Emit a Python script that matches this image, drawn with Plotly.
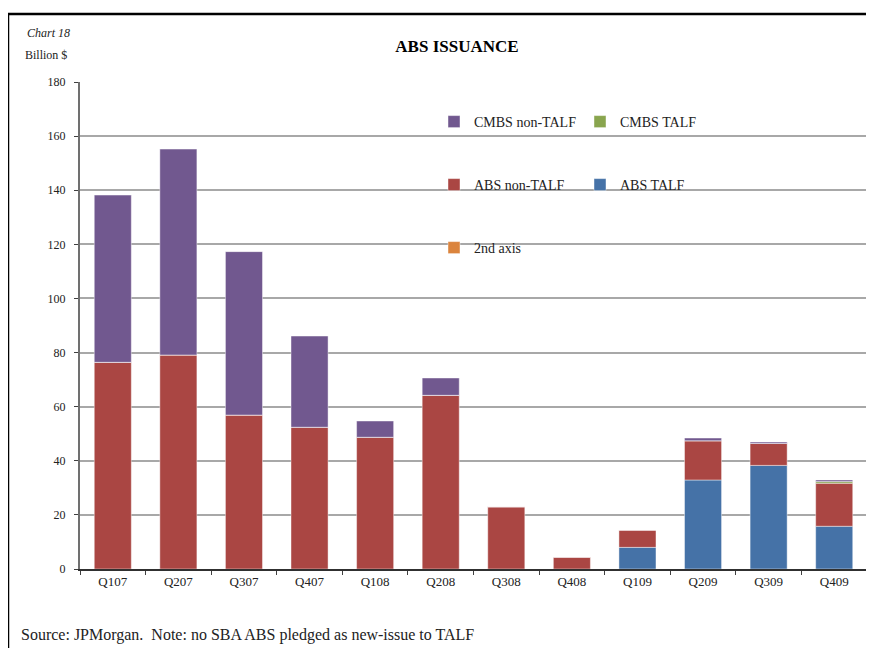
import plotly.graph_objects as go

categories = ["Q107", "Q207", "Q307", "Q407", "Q108", "Q208", "Q308", "Q408", "Q109", "Q209", "Q309", "Q409"]
second_axis = [-0.5, None, None, None, None, None, None, None, None, None, None, None]
abs_talf = [0, 0, 0, 0, 0, 0, 0, 0, 8.0, 32.9, 38.3, 15.8]
abs_non_talf = [76.4, 79.1, 56.9, 52.4, 48.7, 64.2, 23.0, 4.4, 6.4, 14.5, 8.1, 15.9]
cmbs_talf = [0, 0, 0, 0, 0, 0, 0, 0, 0, 0, 0, 0.6]
cmbs_non_talf = [61.8, 76.1, 60.4, 33.7, 6.0, 6.4, 0, 0, 0, 1.0, 0.5, 0.6]
y_ticks = [0, 20, 40, 60, 80, 100, 120, 140, 160, 180]

FONT = "Liberation Serif"
OFF = 8  # page body margin offset
W, H = 874 - OFF, 648 - OFF
L, R, T, B = 80 - OFF, 867 - OFF, 82 - OFF, 569 - OFF

def px(x):
    return (x - OFF - L) / (R - L)

def py(y):
    return (B - (y - OFF)) / (B - T)

edge = dict(color="rgba(255,255,255,0.55)", width=0.8)

fig = go.Figure()
fig.add_trace(go.Bar(x=categories, y=second_axis, name="2nd axis", marker=dict(color="#DB843D", line=edge), legend="legend3"))
fig.add_trace(go.Bar(x=categories, y=abs_talf, name="ABS TALF", marker=dict(color="#4572A7", line=edge), legend="legend2", legendrank=2))
fig.add_trace(go.Bar(x=categories, y=abs_non_talf, name="ABS non-TALF", marker=dict(color="#AA4643", line=edge), legend="legend2", legendrank=1))
fig.add_trace(go.Bar(x=categories, y=cmbs_talf, name="CMBS TALF", marker=dict(color="#89A54E", line=edge), legend="legend", legendrank=2))
fig.add_trace(go.Bar(x=categories, y=cmbs_non_talf, name="CMBS non-TALF", marker=dict(color="#71588F", line=edge), legend="legend", legendrank=1))

leg_common = dict(orientation="h", xanchor="left", yanchor="middle", bgcolor="rgba(0,0,0,0)",
                  font=dict(family=FONT, size=14, color="#222"), entrywidth=101, entrywidthmode="pixels",
                  traceorder="normal", itemwidth=30)

fig.update_layout(
    width=W, height=H,
    margin=dict(l=L, r=W - R, t=T, b=H - B),
    paper_bgcolor="white", plot_bgcolor="white",
    barmode="relative", bargap=0.435,
    font=dict(family=FONT, size=12, color="#222"),
    title=dict(text="<b>ABS ISSUANCE</b>", x=(457 - OFF) / W, y=1 - (46 - OFF) / H, xanchor="center", yanchor="middle",
               font=dict(family=FONT, size=17, color="#000")),
    legend=dict(x=px(434), y=py(122), **leg_common),
    legend2=dict(x=px(434), y=py(185), **leg_common),
    legend3=dict(x=px(434), y=py(248), **leg_common),
    xaxis=dict(type="category", tickson="boundaries", ticks="outside", ticklen=4, tickcolor="#404040",
               showline=True, linecolor="#303030", linewidth=1.5, showgrid=False,
               tickfont=dict(family=FONT, size=13, color="#222")),
    yaxis=dict(range=[0, 180], tickvals=y_ticks, ticks="outside", ticklen=4, tickcolor="#404040",
               showline=True, linecolor="#707070", linewidth=2, showgrid=True, gridcolor="#A8A8A8",
               gridwidth=1.5, zeroline=False, ticklabelstandoff=6,
               tickfont=dict(family=FONT, size=12, color="#222")),
    shapes=[
        dict(type="line", xref="paper", yref="paper", x0=px(8), x1=px(8), y0=py(14), y1=py(700),
             line=dict(color="black", width=2.5)),
        dict(type="line", xref="paper", yref="paper", x0=px(8), x1=px(900), y0=py(14), y1=py(14),
             line=dict(color="black", width=2.5)),
    ],
    annotations=[
        dict(text="<i>Chart 18</i>", xref="paper", yref="paper", x=px(25), y=py(33), xanchor="left",
             yanchor="middle", showarrow=False, font=dict(family=FONT, size=12, color="#222")),
        dict(text="Billion $", xref="paper", yref="paper", x=px(23), y=py(55), xanchor="left",
             yanchor="middle", showarrow=False, font=dict(family=FONT, size=12, color="#222")),
        dict(text="Source: JPMorgan.  Note: no SBA ABS pledged as new-issue to TALF", xref="paper", yref="paper",
             x=px(19), y=py(635), xanchor="left", yanchor="middle", showarrow=False,
             font=dict(family=FONT, size=16, color="#222")),
    ],
)

fig.write_html("out.html")
